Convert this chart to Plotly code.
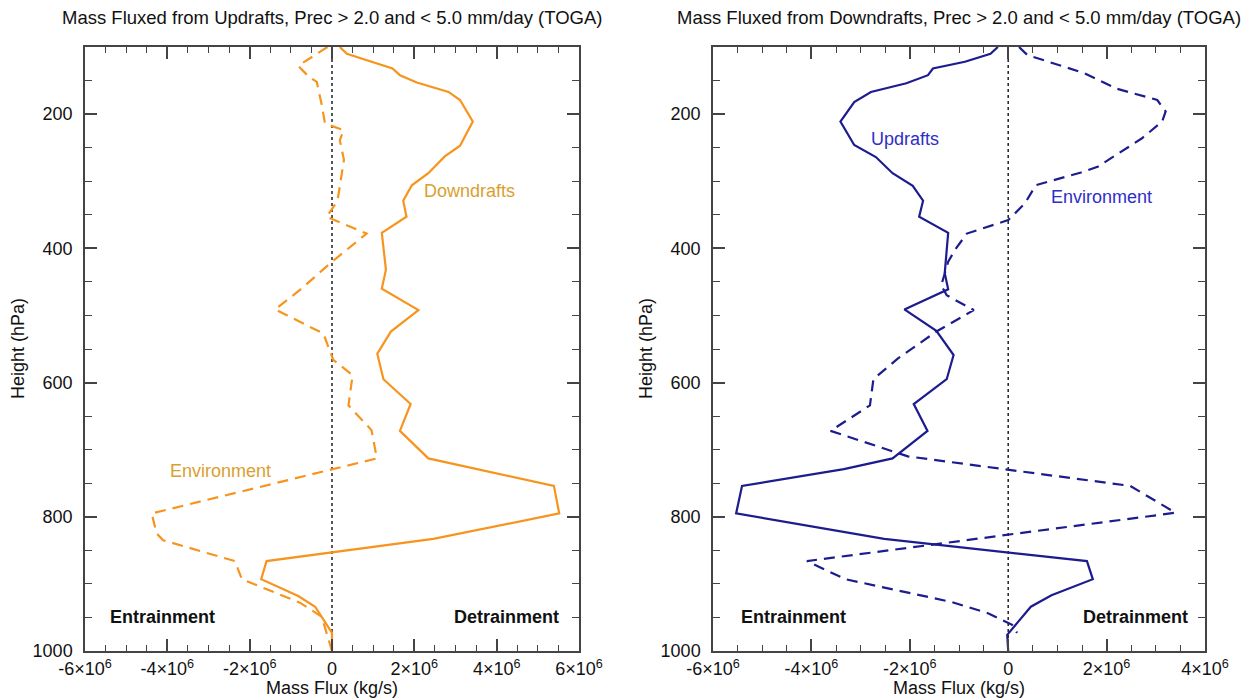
import numpy as np
import plotly.graph_objects as go

# ---------------- data (mass flux in units of 1e6 kg/s, pressure in hPa) ----------------
left_det_p = [100, 110, 132, 142, 153, 167, 179, 211, 247, 263, 288, 306, 329, 353, 377, 432, 460,
              492, 524, 557, 595, 632, 672, 713, 754, 795, 833, 866, 893, 918, 934, 973, 1000]
left_det_x = [0.19, 0.36, 1.47, 1.65, 2.06, 2.83, 3.11, 3.42, 3.11, 2.74, 2.34, 1.94, 1.73, 1.81, 1.21, 1.31, 1.21,
              2.10, 1.43, 1.10, 1.25, 1.91, 1.65, 2.34, 5.39, 5.52, 2.46, -1.59, -1.72, -0.82, -0.41, 0.0, 0.0]

left_env_p = [100, 128, 144, 152, 186, 214, 224, 239, 268, 323, 335, 353, 378, 420, 462, 491, 527,
              566, 589, 634, 671, 713, 795, 825, 835, 866, 893, 928, 949, 974, 1000]
left_env_x = [-0.11, -0.82, -0.57, -0.37, -0.25, -0.17, 0.28, 0.19, 0.29, 0.15, 0.07, -0.13, 0.84, 0.0, -0.78, -1.38, -0.21,
              0.03, 0.50, 0.40, 0.96, 1.09, -4.38, -4.26, -4.10, -2.36, -2.19, -0.78, -0.25, -0.13, 0.0]

right_up_p = [100, 110, 122, 132, 142, 154, 167, 182, 211, 246, 264, 288, 307, 329, 353, 377, 437, 461,
              491, 523, 559, 595, 632, 672, 713, 729, 754, 795, 833, 866, 893, 917, 934, 969, 976, 1000]
right_up_x = [-0.21, -0.36, -0.88, -1.53, -1.63, -2.07, -2.79, -3.13, -3.41, -3.13, -2.69, -2.35, -1.94, -1.73, -1.81, -1.22, -1.29, -1.22,
              -2.11, -1.46, -1.11, -1.25, -1.92, -1.64, -2.35, -3.34, -5.41, -5.53, -2.52, 1.60, 1.72, 0.88, 0.46, 0.05, -0.02, 0.0]

right_env_p = [100, 112, 139, 162, 179, 196, 211, 236, 278, 287, 306, 333, 358, 378, 402, 420, 455, 470,
               492, 524, 564, 595, 634, 672, 710, 754, 794, 866, 893, 927, 944, 961, 973]
right_env_x = [0.22, 0.39, 1.55, 2.20, 3.03, 3.20, 3.13, 2.72, 1.83, 1.48, 0.56, 0.34, 0.0, -0.84, -1.08, -1.22, -1.36, -1.25,
               -0.70, -1.46, -2.24, -2.74, -2.81, -3.61, -2.04, 2.48, 3.40, -4.09, -3.31, -1.15, -0.40, 0.08, 0.18]

left_xticks = [-6, -4, -2, 0, 2, 4, 6]
right_xticks = [-6, -4, -2, 0, 2, 4]
yticks = [200, 400, 600, 800, 1000]

SCALE = 1e6


def xlabel(v):
    return "0" if v == 0 else f"{v}×10<sup>6</sup>"


ORANGE = "#F7941D"
ORANGE_TXT = "#D9A030"
NAVY = "#1C1C8E"
BLUE_TXT = "#2E2EC8"
AX = "#444444"
FONT = "Liberation Sans, Arial, sans-serif"

W, H = 1250, 698


def px(x):
    return x / W


def py(y):
    return 1 - y / H


fig = go.Figure()

fig.add_trace(go.Scatter(x=np.array(left_det_x) * SCALE, y=left_det_p, mode="lines",
                         line=dict(color=ORANGE, width=2.2), xaxis="x", yaxis="y", showlegend=False))
fig.add_trace(go.Scatter(x=np.array(left_env_x) * SCALE, y=left_env_p, mode="lines",
                         line=dict(color=ORANGE, width=2.2, dash="11px,7px"), xaxis="x", yaxis="y", showlegend=False))
fig.add_trace(go.Scatter(x=np.array(right_up_x) * SCALE, y=right_up_p, mode="lines",
                         line=dict(color=NAVY, width=2.2), xaxis="x2", yaxis="y2", showlegend=False))
fig.add_trace(go.Scatter(x=np.array(right_env_x) * SCALE, y=right_env_p, mode="lines",
                         line=dict(color=NAVY, width=2.2, dash="11px,7px"), xaxis="x2", yaxis="y2", showlegend=False))

# zero reference lines
for xr, yr in (("x", "y"), ("x2", "y2")):
    fig.add_shape(type="line", xref=xr, yref=yr, x0=0, x1=0, y0=100, y1=1000,
                  line=dict(color="#222222", width=1.5, dash="dot"), layer="below")


def xaxis_cfg(domain, rng, ticks, anchor):
    return dict(domain=domain, range=[rng[0] * SCALE, rng[1] * SCALE], anchor=anchor, automargin=False,
                tickmode="array", tickvals=[t * SCALE for t in ticks], ticktext=[xlabel(t) for t in ticks],
                ticks="inside", ticklen=12, tickwidth=1.5, tickcolor=AX,
                minor=dict(tickmode="linear", tick0=rng[0] * SCALE, dtick=0.5 * SCALE, ticks="inside",
                           ticklen=6, tickwidth=1.2, tickcolor=AX),
                showline=True, linecolor=AX, linewidth=1.5, mirror="ticks",
                showgrid=False, zeroline=False, ticklabelstandoff=1,
                tickfont=dict(family=FONT, size=18, color="#111111"))


def yaxis_cfg(domain, anchor):
    return dict(domain=domain, range=[1000, 100], anchor=anchor, automargin=False,
                tickmode="array", tickvals=yticks, ticktext=[str(t) for t in yticks],
                ticks="inside", ticklen=12, tickwidth=1.5, tickcolor=AX,
                minor=dict(tickmode="linear", tick0=100, dtick=50, ticks="inside",
                           ticklen=7, tickwidth=1.2, tickcolor=AX),
                showline=True, linecolor=AX, linewidth=1.5, mirror="ticks",
                showgrid=False, zeroline=False, ticklabelstandoff=7,
                tickfont=dict(family=FONT, size=18, color="#111111"))


ydom = [py(651), py(47)]
fig.update_layout(
    width=W, height=H, margin=dict(l=0, r=0, t=0, b=0, autoexpand=False),
    paper_bgcolor="white", plot_bgcolor="white",
    xaxis=xaxis_cfg([px(85), px(579)], (-6, 6), left_xticks, "y"),
    yaxis=yaxis_cfg(ydom, "x"),
    xaxis2=xaxis_cfg([px(713), px(1205)], (-6, 4), right_xticks, "y2"),
    yaxis2=yaxis_cfg(ydom, "x2"),
)

ann = []


def add_text(text, x, y, size=18, color="#111111", angle=0, bold=False):
    t = f"<b>{text}</b>" if bold else text
    ann.append(dict(text=t, x=px(x), y=py(y), xref="paper", yref="paper", showarrow=False,
                    xanchor="center", yanchor="middle", textangle=angle,
                    font=dict(family=FONT, size=size, color=color)))


add_text("Mass Fluxed from Updrafts, Prec &gt; 2.0 and &lt; 5.0 mm/day (TOGA)", 332, 18, size=18.5)
add_text("Mass Fluxed from Downdrafts, Prec &gt; 2.0 and &lt; 5.0 mm/day (TOGA)", 959, 18, size=18.5)
add_text("Mass Flux (kg/s)", 332, 688)
add_text("Mass Flux (kg/s)", 959, 688)
add_text("Height (hPa)", 18, 349, angle=-90)
add_text("Height (hPa)", 646, 349, angle=-90)

add_text("Downdrafts", 469, 191, color=ORANGE_TXT)
add_text("Environment", 220, 471, color=ORANGE_TXT)
add_text("Entrainment", 162, 617, bold=True)
add_text("Detrainment", 506, 617, bold=True)

add_text("Updrafts", 905, 139, color=BLUE_TXT)
add_text("Environment", 1101, 197, color=BLUE_TXT)
add_text("Entrainment", 793, 617, bold=True)
add_text("Detrainment", 1135, 617, bold=True)

fig.update_layout(annotations=ann)

fig.write_html("out.html")
